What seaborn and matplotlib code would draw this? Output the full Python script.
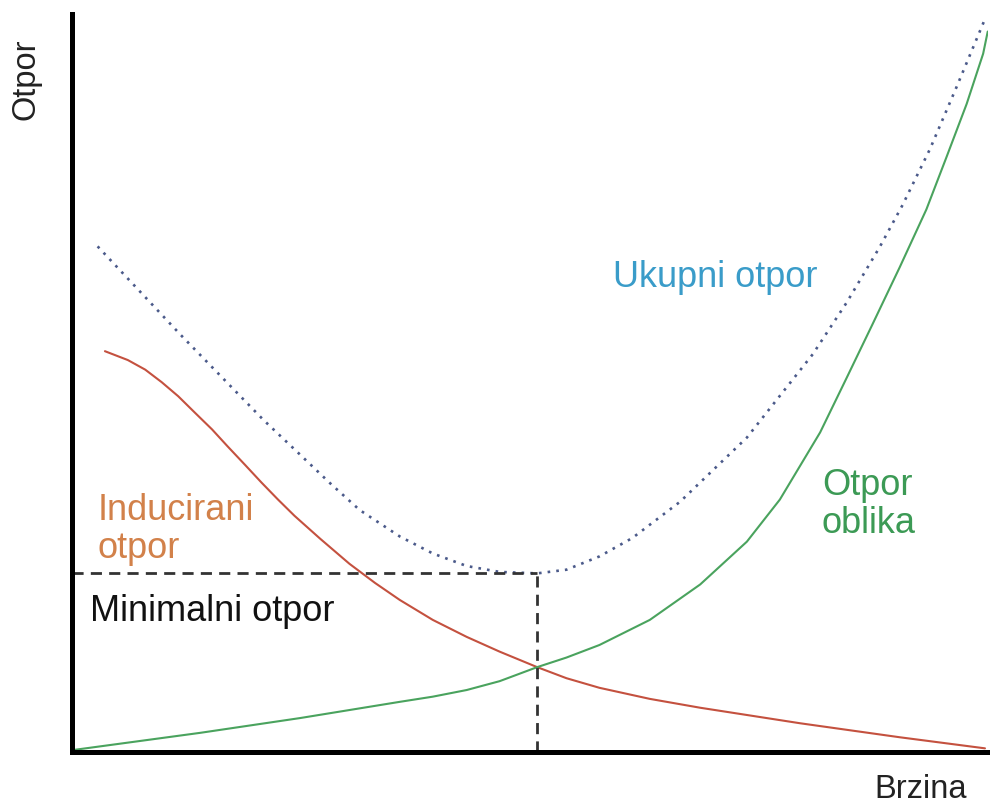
import matplotlib
matplotlib.use("Agg")

import matplotlib.pyplot as plt
import numpy as np
import pandas as pd
import seaborn as sns

# speed / drag in arbitrary units (0..10 on both axes)
induced_x = [0.36, 0.61, 0.80, 0.98, 1.16, 1.34, 1.53, 1.70, 1.89, 2.07, 2.25,
             2.43, 2.71, 3.03, 3.31, 3.58, 3.94, 4.31, 4.67, 5.08, 5.40, 5.76,
             6.31, 6.86, 7.95, 9.04, 9.97]
induced_y = [5.43, 5.31, 5.18, 5.01, 4.82, 4.60, 4.37, 4.14, 3.89, 3.65, 3.42,
             3.20, 2.89, 2.55, 2.29, 2.06, 1.79, 1.56, 1.36, 1.15, 1.00, 0.87,
             0.72, 0.60, 0.39, 0.20, 0.05]

form_x = [0.03, 1.40, 2.49, 3.58, 3.94, 4.31, 4.67, 5.08, 5.40, 5.76, 6.31,
          6.86, 7.37, 7.73, 8.17, 8.46, 8.74, 9.04, 9.33, 9.55, 9.77, 9.95,
          10.0]
form_y = [0.03, 0.26, 0.46, 0.68, 0.75, 0.84, 0.96, 1.15, 1.28, 1.45, 1.79,
          2.27, 2.85, 3.42, 4.33, 5.07, 5.79, 6.57, 7.35, 8.06, 8.78, 9.46,
          9.76]

total_x = [0.28, 1.18, 2.09, 2.49, 2.82, 3.14, 3.58, 3.94, 4.31, 4.67, 5.08,
           5.40, 5.76, 6.12, 6.64, 7.37, 8.09, 8.46, 8.82, 9.07, 9.37, 9.66,
           9.97]
total_y = [6.85, 5.66, 4.50, 4.03, 3.64, 3.28, 2.92, 2.69, 2.52, 2.44, 2.42,
           2.47, 2.65, 2.90, 3.39, 4.26, 5.39, 6.09, 6.84, 7.41, 8.17, 9.01,
           9.93]

sns.set_style("white")
plt.rcParams["font.family"] = ["Liberation Sans", "DejaVu Sans"]
plt.rcParams["lines.solid_joinstyle"] = "round"

fig = plt.figure(figsize=(9.9, 8.05), dpi=100)
ax = fig.add_axes([0.0727, 0.0658, 0.925, 0.917])

induced = pd.DataFrame({"x": induced_x, "y": induced_y})
form = pd.DataFrame({"x": form_x, "y": form_y})
total = pd.DataFrame({"x": total_x, "y": total_y})

sns.lineplot(data=induced, x="x", y="y", ax=ax, color="#c4513f", lw=1.5,
             sort=False)
sns.lineplot(data=form, x="x", y="y", ax=ax, color="#4aa35e", lw=1.5,
             sort=False)
sns.lineplot(data=total, x="x", y="y", ax=ax, color="#4b5a8a", lw=1.9,
             sort=False, linestyle=(0, (1, 2.3)))

# minimum total drag marker lines
i_min = int(np.argmin(total_y))
x_min, y_min = total_x[i_min], total_y[i_min]
ax.plot([0, x_min], [y_min, y_min], color="#333333", lw=2,
        linestyle=(0, (4, 2.6)))
ax.plot([x_min, x_min], [0, y_min], color="#333333", lw=2,
        linestyle=(0, (4, 2.6)))

ax.text(5.91, 6.43, "Ukupni otpor", color="#3a9cc9", fontsize=26,
        ha="left", va="center")
ax.text(8.19, 3.35, "Otpor\noblika", color="#3c9a55", fontsize=26,
        ha="left", va="center", linespacing=1.1)
ax.text(0.28, 3.01, "Inducirani\notpor", color="#d2814a", fontsize=26,
        ha="left", va="center", linespacing=1.1)
ax.text(0.20, 1.90, "Minimalni otpor", color="#111111", fontsize=26,
        ha="left", va="center")

ax.set_xlim(0, 10)
ax.set_ylim(0, 10)
ax.set_xticks([])
ax.set_yticks([])
ax.set_xlabel("")
ax.set_ylabel("")
sns.despine(ax=ax)
for side in ("left", "bottom"):
    ax.spines[side].set_linewidth(3.6)
    ax.spines[side].set_color("black")

fig.text(26 / 990, 1 - 79 / 805, "Otpor", rotation=90, fontsize=23.5,
         ha="center", va="center", color="#222222")
fig.text(921 / 990, 1 - 789 / 805, "Brzina", fontsize=23.5,
         ha="center", va="center", color="#222222")

fig.savefig("out.png", dpi=100)
plt.close(fig)
